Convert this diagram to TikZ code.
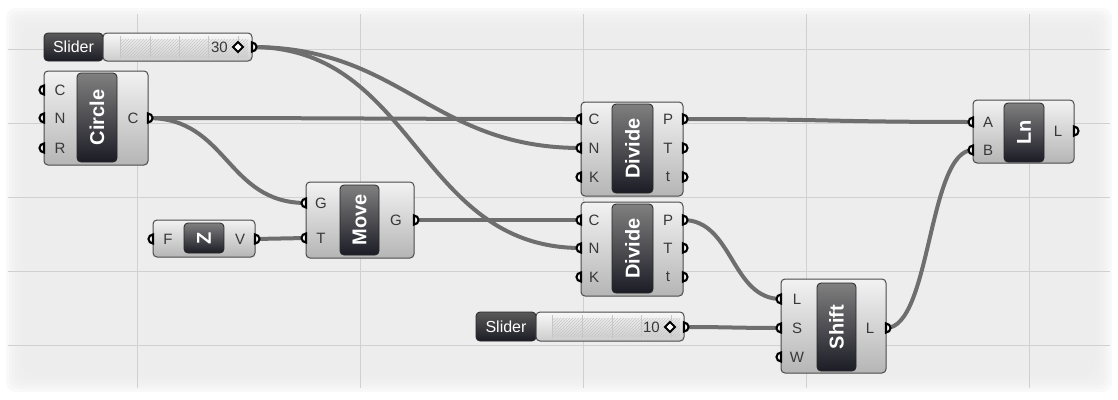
\documentclass[tikz,border=0pt]{standalone}
\usepackage{fontspec}
\setmainfont{Liberation Sans}
\usetikzlibrary{patterns}
\definecolor{CanvasGray}{HTML}{EDEDED}
\definecolor{GridGray}{HTML}{D0D0D0}
\definecolor{WireGray}{HTML}{6E6E6E}
\definecolor{PanelDark}{HTML}{1C1C26}
\definecolor{EdgeGray}{HTML}{4A4A4A}
\pgfdeclarelayer{bg}
\pgfdeclarelayer{wires}
\pgfsetlayers{bg,wires,main}

\tikzset{
  inport/.pic={\draw[line width=2.1pt, fill=white] (0pt,4.5pt) arc[start angle=90, end angle=270, radius=4.5pt] -- cycle;},
  outport/.pic={\draw[line width=2.1pt, fill=white] (0pt,4.5pt) arc[start angle=90, end angle=-90, radius=4.5pt] -- cycle;}
}

\begin{document}
\begin{tikzpicture}[
    x=1pt, y=-1pt,
    comp/.style={draw=EdgeGray, line width=1pt, rounded corners=4pt, top color=gray!10, bottom color=gray!58, inner sep=0pt, outer sep=0pt},
    panel/.style={draw=black!85, line width=0.8pt, rounded corners=4pt, top color=black!50, middle color=PanelDark, bottom color=PanelDark, text=white, font=\fontsize{20}{20}\selectfont\bfseries, inner sep=0pt},
    sliderlbl/.style={draw=black!85, line width=0.8pt, rounded corners=4pt, top color=black!65, bottom color=PanelDark, text=white, font=\fontsize{16}{16}\selectfont, inner sep=0pt},
    sliderbar/.style={draw=EdgeGray, line width=1pt, rounded corners=4pt, top color=gray!5, bottom color=gray!40, inner sep=0pt},
    plabel/.style={font=\fontsize{15}{15}\selectfont, text=black!78, inner sep=0pt},
    wire/.style={draw=WireGray, line width=4pt, line cap=round},
    track/.style={pattern=north east lines, pattern color=gray!45, draw=none}
]
  \useasboundingbox (0,0) rectangle (1118,399);

  % =========================================================================
  % CANVAS
  % =========================================================================
  \begin{pgfonlayer}{bg}
    \fill[white] (0,0) rectangle (1118,399);
    \foreach \i in {0,...,7} {
      \fill[CanvasGray, opacity=0.3, rounded corners=10pt] (6+3*\i,8+3*\i) rectangle (1112-3*\i,392-3*\i);
    }
    \foreach \gx in {137,360,583,806,1029} {
      \draw[GridGray, line width=0.7pt] (\gx,14) -- (\gx,388);
    }
    \foreach \gy in {49,123,197,271,345} {
      \draw[GridGray, line width=0.7pt] (8,\gy) -- (1110,\gy);
    }
  \end{pgfonlayer}

  % =========================================================================
  % SLIDERS
  % =========================================================================
  \node[sliderlbl, minimum width=59, minimum height=28] (n_slider1) at (73.5,47) {Slider};
  \node[sliderbar, minimum width=149, minimum height=28] (b_slider1) at (177.5,47) {};
  \fill[track] (120,39) rectangle (248,57);
  \foreach \tx in {120,150,179,208,238} {
    \draw[gray!45, line width=0.5pt] (\tx,36) -- (\tx,58);
  }
  \node[plabel, anchor=east] (v_slider1) at (228,47) {30};
  \draw[line width=1.8pt, fill=white] (233,47) -- (238,42) -- (243,47) -- (238,52) -- cycle;
  \coordinate (s1_out) at (252,47);
  \pic at (s1_out) {outport};

  \node[sliderlbl, minimum width=60, minimum height=29] (n_slider2) at (506,326.5) {Slider};
  \node[sliderbar, minimum width=148, minimum height=29] (b_slider2) at (610,326.5) {};
  \fill[track] (552,318) rectangle (680,336);
  \foreach \tx in {552,582,612,641,671} {
    \draw[gray!45, line width=0.5pt] (\tx,315) -- (\tx,338);
  }
  \node[plabel, anchor=east] (v_slider2) at (660,327) {10};
  \draw[line width=1.8pt, fill=white] (665,327) -- (670,322) -- (675,327) -- (670,332) -- cycle;
  \coordinate (s2_out) at (684,327);
  \pic at (s2_out) {outport};

  % =========================================================================
  % CIRCLE
  % =========================================================================
  \node[comp, minimum width=104, minimum height=94] (n_circle) at (96,118) {};
  \node[panel, minimum width=40, minimum height=89] (p_circle) at (97,117.5) {\rotatebox{90}{Circle}};
  \foreach \py/\lbl in {90/C,118/N,148/R} {
    \coordinate (circle_\lbl) at (44,\py);
    \pic at (circle_\lbl) {inport};
    \node[plabel] (l_circle_\lbl) at (60,\py) {\lbl};
  }
  \coordinate (circle_out) at (148,118);
  \pic at (circle_out) {outport};
  \node[plabel] (l_circle_out) at (133,118) {C};

  % =========================================================================
  % UNIT Z
  % =========================================================================
  \node[comp, minimum width=102, minimum height=37] (n_unitz) at (204,238.5) {};
  \node[panel, minimum width=40, minimum height=30] (p_unitz) at (204,238) {\rotatebox{90}{Z}};
  \coordinate (z_F) at (153,239);
  \pic at (z_F) {inport};
  \node[plabel] (l_z_F) at (168,239) {F};
  \coordinate (z_out) at (255,239);
  \pic at (z_out) {outport};
  \node[plabel] (l_z_out) at (240,239) {V};

  % =========================================================================
  % MOVE
  % =========================================================================
  \node[comp, minimum width=108, minimum height=76] (n_move) at (360,220) {};
  \node[panel, minimum width=39, minimum height=70] (p_move) at (359.5,220) {\rotatebox{90}{Move}};
  \foreach \py/\lbl in {203/G,238/T} {
    \coordinate (move_\lbl) at (306,\py);
    \pic at (move_\lbl) {inport};
    \node[plabel] (l_move_\lbl) at (321,\py) {\lbl};
  }
  \coordinate (move_out) at (414,220);
  \pic at (move_out) {outport};
  \node[plabel] (l_move_out) at (396,220) {G};

  % =========================================================================
  % DIVIDE (x2)
  % =========================================================================
  \node[comp, minimum width=102, minimum height=94] (n_div1) at (632,149) {};
  \node[panel, minimum width=41, minimum height=89] (p_div1) at (632.5,148.5) {\rotatebox{90}{Divide}};
  \foreach \py/\lbl/\olbl in {119/C/P,148/N/T,177/K/t} {
    \coordinate (div1_\lbl) at (581,\py);
    \pic at (div1_\lbl) {inport};
    \node[plabel] (l_div1_\lbl) at (594,\py) {\lbl};
    \coordinate (div1_\olbl) at (683,\py);
    \pic at (div1_\olbl) {outport};
    \node[plabel] (l_div1_\olbl) at (668,\py) {\olbl};
  }

  \node[comp, minimum width=102, minimum height=94] (n_div2) at (632,249) {};
  \node[panel, minimum width=41, minimum height=89] (p_div2) at (632.5,248.5) {\rotatebox{90}{Divide}};
  \foreach \py/\lbl/\olbl in {220/C/P,248/N/T,277/K/t} {
    \coordinate (div2_\lbl) at (581,\py);
    \pic at (div2_\lbl) {inport};
    \node[plabel] (l_div2_\lbl) at (594,\py) {\lbl};
    \coordinate (div2_\olbl) at (683,\py);
    \pic at (div2_\olbl) {outport};
    \node[plabel] (l_div2_\olbl) at (668,\py) {\olbl};
  }

  % =========================================================================
  % SHIFT
  % =========================================================================
  \node[comp, minimum width=105, minimum height=94] (n_shift) at (833.5,326) {};
  \node[panel, minimum width=39, minimum height=88] (p_shift) at (836.5,327) {\rotatebox{90}{Shift}};
  \foreach \py/\lbl in {299/L,328/S,357/W} {
    \coordinate (shift_\lbl) at (781,\py);
    \pic at (shift_\lbl) {inport};
    \node[plabel] (l_shift_\lbl) at (797,\py) {\lbl};
  }
  \coordinate (shift_out) at (886,328);
  \pic at (shift_out) {outport};
  \node[plabel] (l_shift_out) at (870,328) {L};

  % =========================================================================
  % LINE
  % =========================================================================
  \node[comp, minimum width=101, minimum height=63] (n_line) at (1023.5,131.5) {};
  \node[panel, minimum width=40, minimum height=59] (p_line) at (1024,132.5) {\rotatebox{90}{Ln}};
  \foreach \py/\lbl in {122/A,150/B} {
    \coordinate (line_\lbl) at (973,\py);
    \pic at (line_\lbl) {inport};
    \node[plabel] (l_line_\lbl) at (988,\py) {\lbl};
  }
  \coordinate (line_out) at (1074,131);
  \pic at (line_out) {outport};
  \node[plabel] (l_line_out) at (1058,131) {L};

  % =========================================================================
  % WIRES
  % =========================================================================
  \begin{pgfonlayer}{wires}
    \draw[wire] (s1_out) .. controls +(150,0) and +(-150,0) .. (div1_N);
    \draw[wire] (s1_out) .. controls +(164,0) and +(-164,0) .. (div2_N);
    \draw[wire] (circle_out) .. controls +(200,0) and +(-200,0) .. (div1_C);
    \draw[wire] (circle_out) .. controls +(80,0) and +(-80,0) .. (move_G);
    \draw[wire] (z_out) .. controls +(25,0) and +(-25,0) .. (move_T);
    \draw[wire] (move_out) .. controls +(80,0) and +(-80,0) .. (div2_C);
    \draw[wire] (div1_P) .. controls +(140,0) and +(-140,0) .. (line_A);
    \draw[wire] (div2_P) .. controls +(50,0) and +(-50,0) .. (shift_L);
    \draw[wire] (s2_out) .. controls +(45,0) and +(-45,0) .. (shift_S);
    \draw[wire] (shift_out) .. controls +(45,0) and +(-45,0) .. (line_B);
  \end{pgfonlayer}

\end{tikzpicture}
\end{document}
